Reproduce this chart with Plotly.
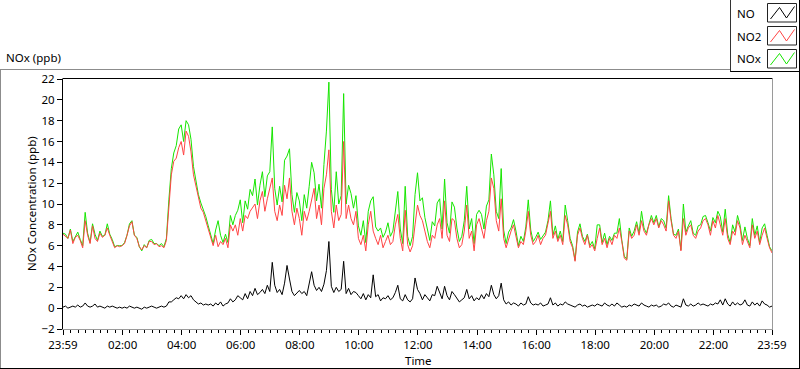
import pandas as pd
import plotly.graph_objects as go

# ---------------- data (5-minute readings, 23:59 -> 23:59) ----------------
no2_ppb = [
    7.1, 6.9, 6.7, 7.5, 6.2, 6.8, 7.0, 6.5, 5.8, 8.4, 7.0, 6.2,
    7.9, 6.7, 6.4, 7.2, 6.8, 7.0, 7.7, 7.0, 6.4, 5.8, 6.0, 5.9,
    6.0, 6.2, 7.0, 7.9, 8.3, 7.0, 6.7, 5.9, 5.6, 6.0, 5.8, 6.4,
    6.4, 6.1, 6.2, 5.9, 6.0, 5.8, 6.5, 9.8, 12.8, 14.1, 14.4, 15.4,
    16.0, 14.7, 17.0, 16.5, 15.0, 12.8, 11.8, 10.5, 9.6, 9.2, 8.4, 7.6,
    6.7, 6.0, 7.0, 5.9, 6.4, 6.1, 6.7, 5.8, 8.0, 7.4, 8.0, 7.0,
    8.6, 7.4, 8.9, 8.6, 9.3, 9.6, 10.0, 8.6, 10.3, 11.2, 9.3, 10.5,
    11.5, 12.5, 9.3, 8.4, 9.9, 8.9, 11.8, 10.5, 12.5, 9.3, 8.0, 9.6,
    8.6, 7.0, 9.3, 8.4, 9.3, 10.5, 11.5, 8.6, 9.9, 8.0, 11.5, 12.8,
    15.2, 9.3, 7.7, 9.9, 8.4, 9.0, 16.0, 8.6, 9.9, 8.6, 8.0, 9.3,
    6.7, 6.1, 7.0, 5.5, 8.0, 9.3, 7.4, 6.7, 6.1, 7.0, 5.8, 6.4,
    7.0, 6.1, 6.4, 8.0, 9.0, 6.7, 5.5, 9.4, 6.1, 5.4, 6.0, 8.0,
    9.9, 8.9, 8.4, 7.4, 6.4, 5.8, 7.0, 6.7, 8.0, 8.6, 6.7, 10.3,
    7.0, 6.4, 8.6, 8.4, 6.7, 5.8, 6.1, 7.4, 9.9, 6.7, 7.4, 5.5,
    8.0, 8.6, 7.7, 6.7, 8.4, 9.3, 12.5, 11.5, 8.4, 7.4, 10.5, 6.7,
    5.8, 6.7, 7.4, 8.0, 7.0, 5.8, 6.4, 6.1, 7.4, 9.3, 7.0, 6.1,
    6.4, 7.0, 6.1, 6.7, 7.0, 8.0, 9.3, 6.7, 7.4, 6.4, 7.0, 6.1,
    8.9, 8.0, 6.4, 5.8, 4.5, 7.0, 7.7, 6.7, 6.1, 7.0, 5.8, 6.1,
    5.5, 6.7, 7.7, 6.1, 6.7, 5.8, 6.7, 6.1, 7.0, 6.7, 7.7, 6.4,
    4.8, 4.6, 7.4, 6.7, 7.0, 8.0, 7.0, 8.4, 7.4, 7.0, 8.0, 8.6,
    8.0, 8.6, 7.7, 8.4, 8.0, 7.4, 10.3, 8.4, 7.0, 6.7, 7.4, 5.5,
    8.6, 7.0, 7.7, 8.0, 7.0, 6.7, 7.4, 7.7, 8.4, 8.6, 8.0, 7.0,
    8.4, 7.7, 8.9, 8.0, 7.0, 8.6, 6.7, 6.1, 7.4, 7.0, 8.4, 7.7,
    6.1, 7.0, 6.4, 5.8, 8.0, 6.7, 7.4, 6.1, 7.0, 7.7, 6.7, 5.8, 5.3,
]

no_ppb = [
    0.1, 0.2, 0.0, 0.1, 0.2, 0.1, 0.3, 0.1, 0.2, 0.5, 0.2, 0.1,
    0.2, 0.4, 0.1, 0.2, 0.1, 0.0, 0.2, 0.1, 0.2, 0.1, 0.0, 0.1,
    0.0, 0.1, 0.0, 0.2, 0.1, 0.0, 0.1, 0.0, -0.1, 0.1, 0.0, 0.1,
    0.2, 0.1, 0.0, 0.1, 0.2, 0.1, 0.2, 0.6, 0.6, 0.8, 1.0, 0.9,
    1.2, 0.9, 1.3, 1.0, 1.2, 0.8, 0.6, 0.4, 0.5, 0.3, 0.4, 0.3,
    0.4, 0.2, 0.5, 0.3, 0.6, 0.2, 0.4, 0.5, 0.9, 0.6, 0.8, 1.2,
    1.0, 0.8, 1.4, 0.9, 1.6, 1.2, 1.9, 1.3, 1.5, 1.8, 1.4, 2.2,
    1.6, 4.4, 2.2, 1.5, 1.8, 1.3, 2.4, 4.1, 2.8, 1.6, 1.2, 1.5,
    1.7, 1.4, 1.6, 1.2, 2.4, 3.5, 2.2, 1.7, 2.0, 1.6, 2.3, 3.6,
    6.4, 2.1, 1.5, 2.0, 1.6, 1.8, 4.5, 1.4, 1.9, 1.3, 1.6, 1.5,
    1.2, 0.9, 1.4, 0.8, 1.3, 1.0, 3.2, 1.1, 1.3, 0.7, 1.0, 0.9,
    1.2, 0.8, 1.0, 1.5, 2.2, 0.9, 0.7, 1.3, 0.8, 0.6, 0.9, 2.9,
    1.8, 1.4, 0.8, 1.3, 1.0, 0.7, 1.3, 1.2, 2.1, 1.4, 0.9, 2.1,
    1.2, 0.8, 1.6, 1.3, 1.0, 0.6, 0.8, 1.0, 1.8, 0.9, 1.2, 0.7,
    1.0, 0.8, 1.3, 0.9, 1.4, 1.1, 2.2, 1.3, 0.9, 1.2, 2.4, 0.8,
    0.4, 0.6, 0.3, 0.5, 0.4, 0.2, 0.5, 0.3, 0.4, 1.1, 0.5, 0.3,
    0.4, 0.3, 0.5, 0.2, 0.3, 0.4, 1.0, 0.3, 0.5, 0.2, 0.4, 0.3,
    0.6, 0.4, 0.3, 0.2, 0.1, 0.3, 0.4, 0.2, 0.3, 0.1, 0.2, 0.3,
    0.2, 0.4, 0.3, 0.2, 0.5, 0.3, 0.2, 0.4, 0.2, 0.5, 0.3, 0.1,
    0.2, 0.1, 0.3, 0.2, 0.4, 0.3, 0.2, 0.5, 0.3, 0.2, 0.1, 0.3,
    0.2, 0.3, 0.1, 0.2, 0.4, 0.3, 0.5, 0.2, 0.1, 0.3, 0.2, 0.1,
    0.9, 0.3, 0.2, 0.4, 0.2, 0.3, 0.5, 0.3, 0.4, 0.3, 0.2, 0.4,
    0.3, 0.5, 0.4, 0.8, 0.3, 0.9, 0.4, 0.2, 0.6, 0.3, 0.5, 0.3,
    0.4, 0.8, 0.3, 0.2, 0.6, 0.3, 0.5, 0.2, 0.7, 0.4, 0.3, 0.1, 0.2,
]

nox_ppb = [
    7.2, 7.1, 6.7, 7.6, 6.4, 6.9, 7.3, 6.6, 6.0, 9.2, 7.2, 6.3,
    8.1, 7.1, 6.5, 7.4, 6.9, 7.0, 8.1, 7.1, 6.6, 5.9, 6.0, 6.0,
    6.0, 6.3, 7.0, 8.1, 8.4, 7.0, 6.8, 5.9, 5.5, 6.1, 5.8, 6.5,
    6.6, 6.2, 6.2, 6.0, 6.2, 5.9, 6.7, 10.4, 13.4, 14.9, 15.6, 17.2,
    17.6, 16.0, 18.0, 17.6, 16.2, 13.6, 12.4, 10.9, 10.1, 9.5, 8.8, 7.9,
    7.1, 6.2, 7.5, 8.4, 7.0, 6.3, 7.1, 6.3, 8.9, 8.0, 8.9, 9.4,
    10.4, 8.2, 10.3, 9.5, 11.4, 10.8, 12.4, 9.9, 11.8, 13.1, 10.7, 12.7,
    13.1, 17.4, 11.5, 9.9, 11.7, 10.2, 14.2, 14.6, 15.3, 10.9, 9.2, 11.1,
    10.3, 8.4, 10.9, 9.6, 11.7, 14.0, 13.0, 10.3, 11.9, 9.6, 13.8, 17.0,
    21.7, 11.4, 9.2, 13.1, 10.0, 10.8, 20.6, 10.0, 11.8, 11.0, 9.6, 10.8,
    7.9, 7.0, 8.4, 6.3, 9.3, 10.3, 10.7, 7.8, 7.4, 7.7, 6.8, 7.3,
    8.2, 6.9, 7.4, 9.5, 11.2, 7.6, 6.2, 11.7, 6.9, 6.0, 6.9, 10.9,
    13.0, 10.3, 10.6, 8.7, 7.4, 6.5, 8.3, 7.9, 10.1, 10.5, 7.6, 12.4,
    8.2, 7.2, 10.2, 9.7, 7.7, 6.4, 6.9, 8.4, 11.7, 7.6, 8.6, 6.2,
    9.0, 9.4, 9.0, 7.6, 9.8, 10.4, 14.8, 12.8, 9.3, 8.6, 13.4, 7.5,
    6.2, 7.3, 7.7, 8.5, 7.4, 6.0, 6.9, 6.4, 7.8, 10.4, 7.5, 6.4,
    6.8, 7.3, 6.6, 6.9, 7.3, 8.4, 10.3, 7.0, 7.9, 6.6, 7.4, 6.4,
    9.9, 8.4, 6.7, 6.0, 4.6, 7.3, 8.1, 6.9, 6.4, 7.1, 6.0, 6.4,
    5.7, 8.0, 8.0, 6.3, 7.2, 6.1, 6.9, 6.5, 7.2, 7.2, 8.6, 6.5,
    5.0, 4.7, 7.7, 6.9, 7.4, 8.3, 7.2, 9.3, 7.7, 7.2, 8.1, 8.9,
    8.2, 8.9, 7.8, 8.6, 8.4, 7.7, 10.8, 8.6, 7.1, 7.0, 7.6, 5.6,
    10.0, 7.3, 7.9, 8.4, 7.2, 7.0, 7.9, 8.0, 8.8, 8.9, 8.2, 7.4,
    8.7, 8.2, 9.3, 8.8, 7.3, 9.5, 7.1, 6.3, 8.0, 7.3, 8.9, 8.0,
    6.5, 7.8, 6.7, 6.0, 8.6, 7.0, 7.9, 6.3, 7.7, 8.1, 7.0, 5.9, 5.5,
]

series_names = ["NO", "NO2", "NOx"]
x_tick_labels = ["23:59", "02:00", "04:00", "06:00", "08:00", "10:00", "12:00",
                 "14:00", "16:00", "18:00", "20:00", "22:00", "23:59"]
y_tick_values = [-2, 0, 2, 4, 6, 8, 10, 12, 14, 16, 18, 20, 22]

# ---------------- x grid ----------------
start = pd.Timestamp("2023-01-01 23:59")
end = pd.Timestamp("2023-01-02 23:59")
times = pd.date_range(start, periods=len(no2_ppb), freq="5min")

major_vals = [start] + [pd.Timestamp("2023-01-02") + pd.Timedelta(hours=h)
                        for h in range(2, 23, 2)] + [end]
minor_vals = [pd.Timestamp("2023-01-02") + pd.Timedelta(minutes=m)
              for m in range(15, 24 * 60, 15) if m % 120 != 0]

# ---------------- geometry (pixels) ----------------
W, H = 800, 369
L, R, T, B = 63, 772, 79, 329   # plot area in pixels

def px(x):
    return (x - L) / (R - L)

def py(y):
    return (B - y) / (B - T)

FONT = "Noto Sans"
FS = 11.5
colors = {"NO": "#000000", "NO2": "#ff4444", "NOx": "#16e600"}

fig = go.Figure()
fig.add_trace(go.Scatter(x=times, y=nox_ppb, mode="lines", name="NOx",
                         line=dict(color=colors["NOx"], width=1), showlegend=False))
fig.add_trace(go.Scatter(x=times, y=no2_ppb, mode="lines", name="NO2",
                         line=dict(color=colors["NO2"], width=1), showlegend=False))
fig.add_trace(go.Scatter(x=times, y=no_ppb, mode="lines", name="NO",
                         line=dict(color=colors["NO"], width=1), showlegend=False))

shapes = []
# outer panel frame (light top/left, dark bottom/right)
shapes.append(dict(type="line", xref="paper", yref="paper", x0=px(0), x1=px(731),
                   y0=py(69.5), y1=py(69.5), line=dict(color="#8c8c8c", width=1)))
shapes.append(dict(type="line", xref="paper", yref="paper", x0=px(0.5), x1=px(0.5),
                   y0=py(69.5), y1=py(368.5), line=dict(color="#8c8c8c", width=1)))
shapes.append(dict(type="line", xref="paper", yref="paper", x0=px(0), x1=px(800),
                   y0=py(368.5), y1=py(368.5), line=dict(color="#000000", width=1)))
shapes.append(dict(type="line", xref="paper", yref="paper", x0=px(799.5), x1=px(799.5),
                   y0=py(0), y1=py(369), line=dict(color="#000000", width=1)))
# plot area frame
shapes.append(dict(type="line", xref="paper", yref="paper", x0=px(62.5), x1=px(772.5),
                   y0=py(78.5), y1=py(78.5), line=dict(color="#000000", width=1)))
shapes.append(dict(type="line", xref="paper", yref="paper", x0=px(772.5), x1=px(772.5),
                   y0=py(78.5), y1=py(330), line=dict(color="#9a9a9a", width=1)))
# legend box
shapes.append(dict(type="line", xref="paper", yref="paper", x0=px(730.5), x1=px(730.5),
                   y0=py(0), y1=py(72), line=dict(color="#333333", width=1)))
shapes.append(dict(type="line", xref="paper", yref="paper", x0=px(730.5), x1=px(800),
                   y0=py(71.5), y1=py(71.5), line=dict(color="#000000", width=1)))

annotations = []
legend_rows = [("NO", 13), ("NO2", 36), ("NOx", 59)]
for name, cy in legend_rows:
    annotations.append(dict(text=name, xref="paper", yref="paper", x=px(735), y=py(cy),
                            xanchor="left", yanchor="middle", showarrow=False,
                            font=dict(family=FONT, size=FS, color="#000000")))
    bx0, by0, bx1, by1 = 767.5, cy - 9.5, 796.5, cy + 9
    shapes.append(dict(type="rect", xref="paper", yref="paper",
                       x0=px(bx0), x1=px(bx1), y0=py(by0), y1=py(by1),
                       line=dict(color="#222222", width=1), fillcolor="#ffffff"))
    pts = [(bx0 + 3, by1 - 3), (bx0 + 12, by0 + 4), (bx0 + 19, by1 - 4), (bx0 + 27, by0 + 3)]
    path = "M " + " L ".join(f"{px(a):.5f},{py(b):.5f}" for a, b in pts)
    shapes.append(dict(type="path", xref="paper", yref="paper", path=path,
                       line=dict(color=colors[name], width=1)))

annotations.append(dict(text="NOx (ppb)", xref="paper", yref="paper", x=px(4), y=py(58),
                        xanchor="left", yanchor="middle", showarrow=False,
                        font=dict(family=FONT, size=FS, color="#000000")))
annotations.append(dict(text="NOx Concentration (ppb)", xref="paper", yref="paper",
                        x=px(31), y=py(204), xanchor="center", yanchor="middle",
                        textangle=-90, showarrow=False,
                        font=dict(family=FONT, size=FS, color="#000000")))
annotations.append(dict(text="Time", xref="paper", yref="paper", x=px(418), y=py(360),
                        xanchor="center", yanchor="middle", showarrow=False,
                        font=dict(family=FONT, size=FS, color="#000000")))

fig.update_layout(
    width=W, height=H,
    margin=dict(l=L, r=W - R, t=T, b=H - B, pad=0),
    paper_bgcolor="#ffffff", plot_bgcolor="#ffffff",
    font=dict(family=FONT, size=FS, color="#000000"),
    showlegend=False,
    shapes=shapes, annotations=annotations,
    xaxis=dict(
        type="date", range=[start, end],
        tickmode="array", tickvals=major_vals, ticktext=x_tick_labels,
        ticks="outside", ticklen=5, tickcolor="#000000", tickwidth=1,
        minor=dict(tickmode="array", tickvals=minor_vals, ticks="outside",
                   ticklen=3, tickcolor="#000000", tickwidth=1),
        showline=True, linecolor="#9a9a9a", linewidth=1,
        showgrid=False, zeroline=False,
        tickfont=dict(family=FONT, size=FS, color="#000000"),
        fixedrange=True,
    ),
    yaxis=dict(
        range=[-2, 22], tickmode="array", tickvals=y_tick_values,
        ticks="outside", ticklen=5, tickcolor="#000000", tickwidth=1,
        showline=True, linecolor="#000000", linewidth=1,
        showgrid=False, zeroline=False,
        tickfont=dict(family=FONT, size=FS, color="#000000"),
        fixedrange=True,
    ),
)

fig.write_html(
    "out.html",
    config={"displayModeBar": False},
    post_script="document.body.style.margin='0';document.body.style.overflow='hidden';",
)
